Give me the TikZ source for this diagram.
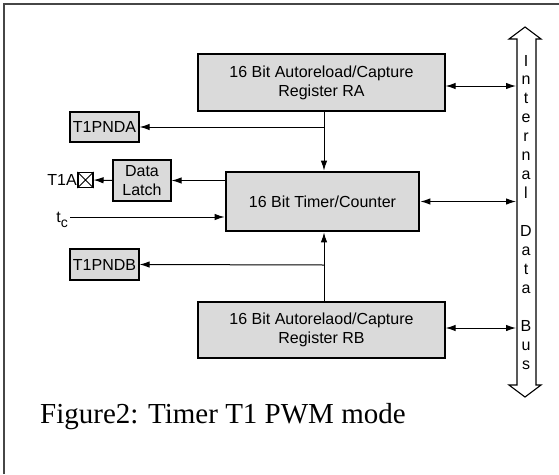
\documentclass[tikz,border=0pt]{standalone}
\usepackage{fontspec}
\setmainfont{Liberation Serif}
\newfontfamily\arial{Liberation Sans}
\usetikzlibrary{arrows.meta}
\definecolor{boxfill}{RGB}{218,218,218}
\definecolor{framec}{RGB}{70,70,70}
\begin{document}
\begin{tikzpicture}[x=1pt,y=-1pt,
  blk/.style={draw, fill=boxfill, line width=1.3pt, inner sep=0pt, align=center,
    font=\arial\fontsize{16}{19}\selectfont},
  arr/.style={line width=1pt, -{Latex[length=10pt,width=6.5pt]}},
  biarr/.style={line width=1pt, {Latex[length=10pt,width=6.5pt]}-{Latex[length=10pt,width=6.5pt]}},
  lbl/.style={font=\arial\fontsize{16}{19}\selectfont, inner sep=0pt}]
\useasboundingbox (0,0) rectangle (559,474);
% frame
\draw[framec, line width=1.4pt] (4,474) -- (4,4) -- (559,4);
% blocks
\node[blk, minimum width=247pt, minimum height=57pt] (RA) at (321.5,82.5) {16 Bit Autoreload/Capture\\Register RA};
\node[blk, minimum width=69pt, minimum height=30pt] (T1PNDA) at (104.5,127) {T1PNDA};
\node[blk, minimum width=58pt, minimum height=41pt] (latch) at (142,180.5) {Data\\Latch};
\node[blk, line width=2.8pt, minimum width=193pt, minimum height=59pt] (timer) at (322.5,201.5) {16 Bit Timer/Counter};
\node[blk, minimum width=69pt, minimum height=31pt] (T1PNDB) at (104.5,264.5) {T1PNDB};
\node[blk, minimum width=247pt, minimum height=56pt] (RB) at (321.5,330) {16 Bit Autorelaod/Capture\\Register RB};
% pin square
\node[draw, line width=1.1pt, minimum size=15pt, inner sep=0pt] (sq) at (85.5,180) {};
\draw[line width=0.9pt] (sq.north west) -- (sq.south east) (sq.north east) -- (sq.south west);
\node[lbl, anchor=east] (t1a) at (77,180) {T1A};
% junctions
\coordinate (ja) at (324,127);
\coordinate (jb) at (324,265);
\coordinate (tcs) at (70,217);
\coordinate (busL) at (516,0);
% connectors
\draw[line width=1pt] (RA.south -| ja) -- (ja);
\draw[arr] (ja) -- (timer.north -| ja);
\draw[arr] (ja) -- (T1PNDA.east);
\draw[arr] (timer.west |- latch.east) -- (latch.east);
\draw[arr] (latch.west) -- (sq.east);
\draw[arr] (tcs) -- (tcs -| timer.west);
\node[lbl, anchor=base east] (tc) at (68,222) {t\raisebox{-5pt}{\fontsize{14}{14}\selectfont c}};
\draw[line width=1pt] (RB.north -| jb) -- (jb);
\draw[arr] (jb) -- (timer.south -| jb);
\draw[arr] (jb) -- (T1PNDB.east);
\draw[biarr] ([yshift=-3.5pt]RA.east) -- ([yshift=-3.5pt]RA.east -| busL);
\draw[biarr] (timer.east) -- (timer.east -| busL);
\draw[biarr] ([yshift=2pt]RB.east) -- ([yshift=2pt]RB.east -| busL);
% internal data bus
\draw[line width=1.1pt, fill=white] (517,39) -- (509,39) -- (525,27) -- (541,39) -- (536,39)
  -- (536,385) -- (541,385) -- (525,397) -- (509,385) -- (517,385) -- cycle;
\foreach \ch/\i in {I/0,n/1,t/2,e/3,r/4,n/5,a/6,l/7,D/9,a/10,t/11,a/12,B/14,u/15,s/16}{
  \node[lbl, anchor=base] at (526,66+18.95*\i) {\ch};
}
% caption
\node[anchor=base west, inner sep=0pt, font=\fontsize{29}{34}\selectfont] (cap) at (40,423) {Figure2: Timer T1 PWM mode};
\end{tikzpicture}
\end{document}
